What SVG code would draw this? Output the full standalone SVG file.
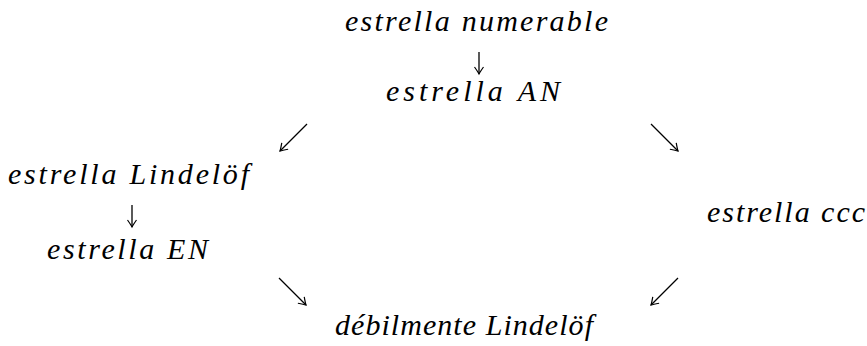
<svg xmlns="http://www.w3.org/2000/svg" width="867" height="346" viewBox="0 0 867 346">
<style>
  .lbl { font-family: "Liberation Serif", "DejaVu Serif", serif; font-style: italic; font-size: 30px; fill: #000; text-anchor: start; }
  .arr { stroke: #000; stroke-width: 1.3; fill: none; marker-end: url(#head); }
</style>
<defs>
  <marker id="head" markerUnits="userSpaceOnUse" markerWidth="14" markerHeight="14" viewBox="-8 -7 10 14" refX="0" refY="0" orient="auto">
    <path d="M-7,-4.5 Q-2,-1 0,0 Q-2,1 -7,4.5" fill="none" stroke="#000" stroke-width="1.2"/>
  </marker>
</defs>
<rect width="867" height="346" fill="#fff"/>
<g id="n-numerable"><text class="lbl" x="345" y="31" textLength="263" lengthAdjust="spacing">estrella numerable</text></g>
<g id="n-an"><text class="lbl" x="386" y="101" textLength="174" lengthAdjust="spacing">estrella AN</text></g>
<g id="n-lindelof"><text class="lbl" x="8" y="184" textLength="241" lengthAdjust="spacing">estrella Lindelöf</text></g>
<g id="n-en"><text class="lbl" x="47" y="259" textLength="161" lengthAdjust="spacing">estrella EN</text></g>
<g id="n-ccc"><text class="lbl" x="707" y="222" textLength="158" lengthAdjust="spacing">estrella ccc</text></g>
<g id="n-debil"><text class="lbl" x="335" y="335" textLength="258" lengthAdjust="spacing">débilmente Lindelöf</text></g>
<g id="connectors">
  <line class="arr" x1="479" y1="52" x2="479" y2="74"/>
  <line class="arr" x1="307" y1="124" x2="280" y2="151"/>
  <line class="arr" x1="651" y1="124" x2="678" y2="151"/>
  <line class="arr" x1="132" y1="205" x2="132" y2="227"/>
  <line class="arr" x1="279" y1="278" x2="306" y2="305"/>
  <line class="arr" x1="678" y1="278" x2="651" y2="305"/>
</g>
</svg>
